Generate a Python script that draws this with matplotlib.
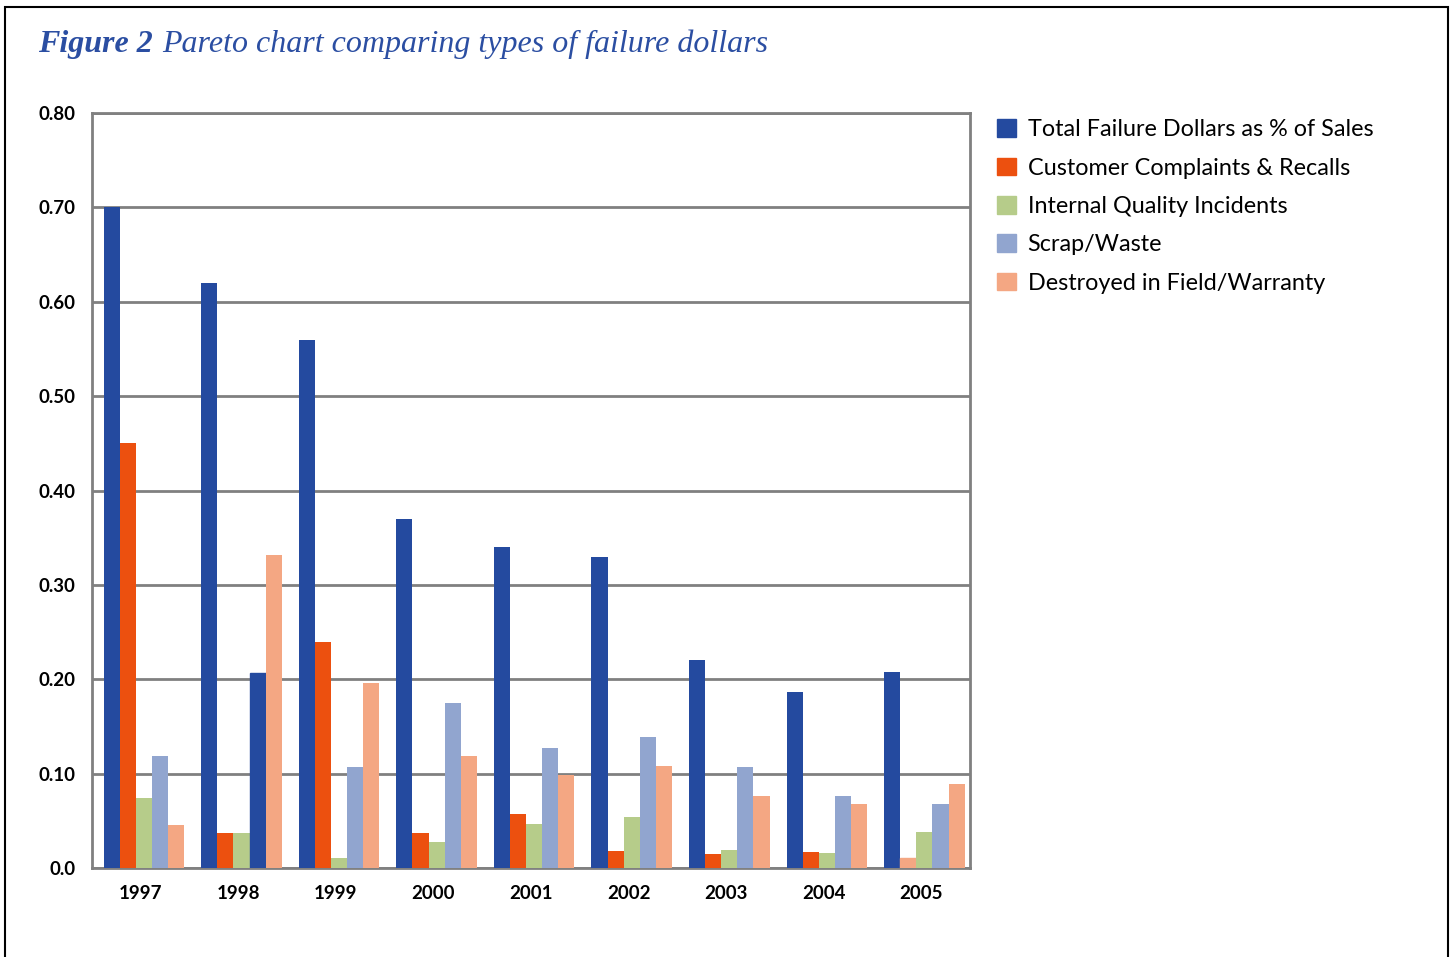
import matplotlib.pyplot as plt
import numpy as np
from matplotlib.patches import Patch, Rectangle

# data
years = ["1997", "1998", "1999", "2000", "2001", "2002", "2003", "2004", "2005"]
series = ["Total Failure Dollars as % of Sales", "Customer Complaints & Recalls",
          "Internal Quality Incidents", "Scrap/Waste", "Destroyed in Field/Warranty"]
total = [0.70, 0.62, 0.56, 0.37, 0.34, 0.33, 0.22, 0.186, 0.208]
complaints = [0.45, 0.037, 0.24, 0.037, 0.057, 0.018, 0.015, 0.017, 0.011]
internal = [0.074, 0.037, 0.011, 0.028, 0.047, 0.054, 0.019, 0.016, 0.038]
scrap = [0.119, 0.207, 0.107, 0.175, 0.127, 0.139, 0.107, 0.076, 0.068]
destroyed = [0.046, 0.332, 0.196, 0.119, 0.099, 0.108, 0.076, 0.068, 0.089]
yticks = [0.0, 0.1, 0.2, 0.3, 0.4, 0.5, 0.6, 0.7, 0.8]
ylabels = ["0.0", "0.10", "0.20", "0.30", "0.40", "0.50", "0.60", "0.70", "0.80"]

colors = ["#244a9f", "#ec500f", "#b6cc8a", "#91a5cf", "#f4a783"]
# the original artwork colours two bars oddly; keep that quirk
odd_colors = {(3, 1): "#244a9f", (1, 8): "#f4a783"}

plt.rcParams["font.family"] = ["Lato", "DejaVu Sans"]

fig = plt.figure(figsize=(14.5, 9.57), dpi=100)
ax = fig.add_axes([92 / 1450, 1 - 868 / 957, 878 / 1450, 755 / 957])

x = np.arange(len(years))
w = 0.165
data = [total, complaints, internal, scrap, destroyed]
for i, vals in enumerate(data):
    bars = ax.bar(x - 0.38 + w * i + w / 2, vals, width=w, color=colors[i], zorder=3)
    for j, b in enumerate(bars):
        if (i, j) in odd_colors:
            b.set_color(odd_colors[(i, j)])

ax.set_xlim(-0.5, 8.5)
ax.set_ylim(0, 0.8)
ax.set_yticks(yticks)
ax.set_yticklabels(ylabels, fontsize=13.5, fontweight="bold")
ax.set_xticks(x)
ax.set_xticklabels(years, fontsize=13.5, fontweight="bold")
ax.tick_params(length=0, pad=12)
ax.grid(axis="y", color="#808080", linewidth=2, zorder=1)
for s in ax.spines.values():
    s.set_color("#808080")
    s.set_linewidth(2)

handles = [Patch(color=c) for c in colors]
fig.legend(handles, series, loc="upper left", bbox_to_anchor=(988 / 1450, 1 - 110 / 957),
           frameon=False, fontsize=16.8, handlelength=0.8, handleheight=0.8,
           handletextpad=0.5, labelspacing=0.74, borderaxespad=0)

fig.text(38 / 1450, 1 - 52 / 957, "Figure 2", fontsize=23, fontstyle="italic",
         fontweight="bold", family="Liberation Serif", color="#2b4ea2")
fig.text(162 / 1450, 1 - 52 / 957, "Pareto chart comparing types of failure dollars",
         fontsize=23, fontstyle="italic", family="Liberation Serif", color="#2b4ea2")

fig.patches.append(Rectangle((5 / 1450, -0.05), 1443 / 1450, 1.05 - 7 / 957,
                             transform=fig.transFigure, fill=False,
                             edgecolor="black", linewidth=1.5))

plt.savefig("out.png", dpi=100)
plt.close()
